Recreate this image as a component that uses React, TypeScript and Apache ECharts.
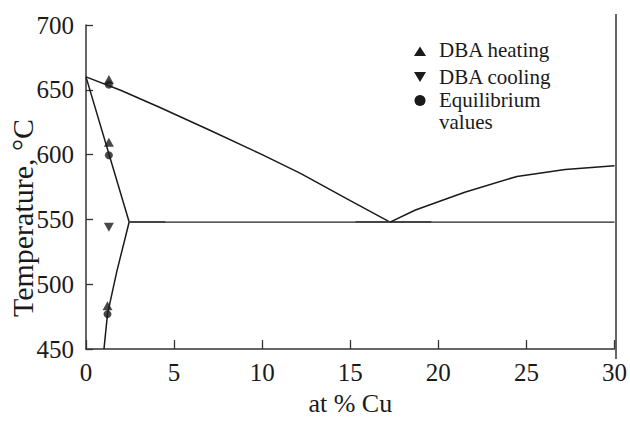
import React, { useEffect, useRef } from "react";
import * as echarts from "echarts";

// Phase boundary curves [at % Cu, °C]
const liquidusAl: [number, number][] = [
  [0, 660], [2, 649.5], [4.2, 636.4], [7, 619], [10, 600], [12.2, 585.3], [15, 564.5], [17.26, 548],
];
const solidus: [number, number][] = [[0, 660], [2.45, 548]];
const solvus: [number, number][] = [[2.45, 548], [1.75, 510], [1.22, 477], [1.02, 450]];
const eutectic: [number, number][] = [[2.45, 548], [30, 548]];
const eutecticThickA: [number, number][] = [[2.45, 548], [4.5, 548]];
const eutecticThickB: [number, number][] = [[15.3, 548], [19.6, 548]];
const liquidusCu: [number, number][] = [
  [17.26, 548], [18.7, 557.3], [21.5, 571], [24.46, 583.2], [27.2, 588.5], [30, 591.5],
];

// Measured points
const dbaHeating: [number, number][] = [[1.3, 658], [1.3, 609.5], [1.22, 483.5]];
const dbaCooling: [number, number][] = [[1.3, 544]];
const equilibrium: [number, number][] = [[1.3, 654], [1.3, 599.5], [1.22, 477]];

const xTicks = [0, 5, 10, 15, 20, 25, 30];
const yTicks = [450, 500, 550, 600, 650, 700];

const legendNames = ["DBA heating", "DBA cooling", "Equilibrium\nvalues"];

const FONT = "Liberation Serif";
const INK = "#1a1a1a";

export default function App() {
  const ref = useRef<HTMLDivElement>(null);

  useEffect(() => {
    document.body.style.margin = "0";
    if (!ref.current) return;
    const chart = echarts.init(ref.current, undefined, { renderer: "svg" });

    const lineSeries = (name: string, data: [number, number][], width = 1.5, color = INK) => ({
      name,
      type: "line",
      data,
      symbol: "none",
      silent: true,
      lineStyle: { color, width },
      z: 2,
    });

    const legendText = (text: string, x: number, y: number) => ({
      type: "text",
      x,
      y,
      style: {
        text,
        fontFamily: FONT,
        fontSize: 21,
        lineHeight: 22,
        fill: INK,
        align: "left",
        verticalAlign: "top",
      },
    });

    chart.setOption({
      animation: false,
      backgroundColor: "#ffffff",
      grid: { left: 86, right: 14, top: 25, bottom: 62, containLabel: false },
      xAxis: {
        type: "value",
        min: xTicks[0],
        max: xTicks[xTicks.length - 1],
        interval: 5,
        axisLine: { show: true, lineStyle: { color: "#333", width: 1.5 } },
        axisTick: { show: true, inside: true, length: 9, lineStyle: { color: "#333", width: 1.3 } },
        axisLabel: { color: INK, fontSize: 25, fontFamily: FONT, margin: 11 },
        splitLine: { show: false },
        name: "at % Cu",
        nameLocation: "middle",
        nameGap: 40,
        nameTextStyle: { color: INK, fontSize: 26, fontFamily: FONT },
      },
      yAxis: [
        {
          type: "value",
          min: yTicks[0],
          max: yTicks[yTicks.length - 1],
          interval: 50,
          axisLine: { show: true, lineStyle: { color: "#333", width: 1.5 } },
          axisTick: { show: true, inside: true, length: 7, lineStyle: { color: "#333", width: 1.3 } },
          axisLabel: { color: INK, fontSize: 25, fontFamily: FONT, margin: 12 },
          splitLine: { show: false },
        },
      ],
      graphic: [
        {
          type: "line",
          shape: { x1: 616, y1: 14, x2: 616, y2: 359 },
          style: { stroke: "#333", lineWidth: 1.5 },
          silent: true,
        },
        {
          type: "text",
          x: 22,
          y: 218,
          rotation: Math.PI / 2,
          style: {
            text: "Temperature, °C",
            fontFamily: FONT,
            fontSize: 30,
            fill: INK,
            align: "center",
            verticalAlign: "middle",
          },
        },
        // legend
        {
          type: "polygon",
          shape: { points: [[420, 46.5], [426, 56], [414, 56]] },
          style: { fill: INK },
        },
        {
          type: "polygon",
          shape: { points: [[414, 72], [426, 72], [420, 82]] },
          style: { fill: INK },
        },
        {
          type: "circle",
          shape: { cx: 420, cy: 100.5, r: 5.5 },
          style: { fill: INK },
        },
        legendText(legendNames[0], 439, 39),
        legendText(legendNames[1], 439, 66),
        legendText(legendNames[2], 439, 88.5),
      ],
      series: [
        lineSeries("Liquidus (Al side)", liquidusAl),
        lineSeries("Solidus", solidus),
        lineSeries("Solvus", solvus),
        lineSeries("Eutectic", eutectic, 1.3, "#222"),
        lineSeries("Eutectic A", eutecticThickA, 2, "#444"),
        lineSeries("Eutectic B", eutecticThickB, 2, "#444"),
        lineSeries("Liquidus (Cu side)", liquidusCu),
        {
          name: "Equilibrium values",
          type: "scatter",
          data: equilibrium,
          symbol: "circle",
          symbolSize: 8,
          itemStyle: { color: INK },
          z: 3,
        },
        {
          name: "DBA heating",
          type: "scatter",
          data: dbaHeating,
          symbol: "triangle",
          symbolSize: [10, 9],
          itemStyle: { color: INK },
          z: 3,
        },
        {
          name: "DBA cooling",
          type: "scatter",
          data: dbaCooling,
          symbol: "triangle",
          symbolRotate: 180,
          symbolSize: [10, 9],
          itemStyle: { color: INK },
          z: 3,
        },
      ],
    });

    return () => chart.dispose();
  }, []);

  return <div ref={ref} style={{ width: 630, height: 421 }} />;
}
